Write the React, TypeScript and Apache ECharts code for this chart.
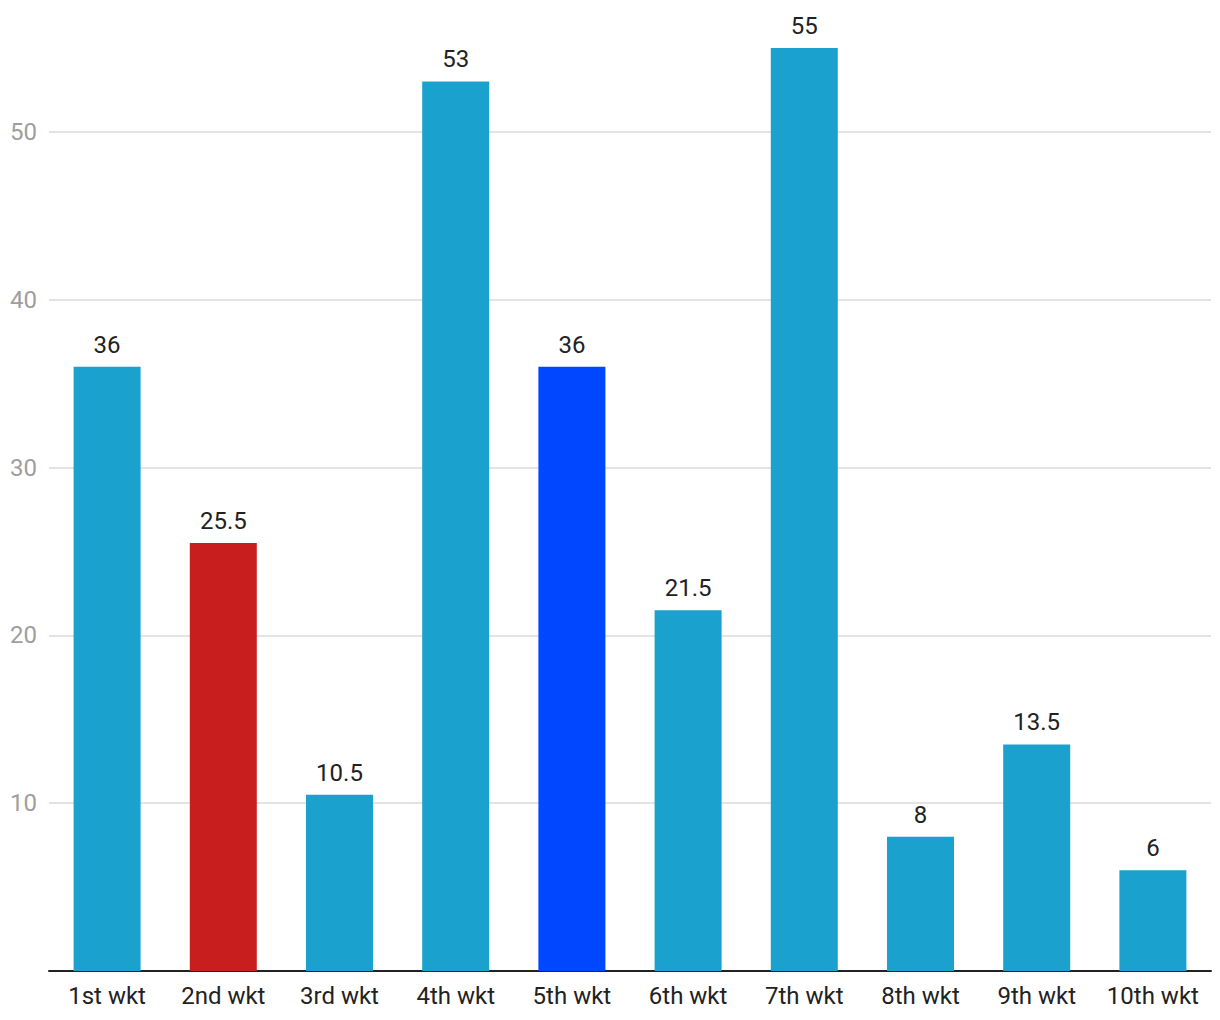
import React, { useEffect, useRef } from "react";
import * as echarts from "echarts";

const categories = ["1st wkt", "2nd wkt", "3rd wkt", "4th wkt", "5th wkt", "6th wkt", "7th wkt", "8th wkt", "9th wkt", "10th wkt"];
const values = [36, 25.5, 10.5, 53, 36, 21.5, 55, 8, 13.5, 6];
const yTicks = [10, 20, 30, 40, 50];

const BASE_COLOR = "#1ba1cd";
const HIGHLIGHT: Record<string, string> = {
  "2nd wkt": "#c91e1e",
  "5th wkt": "#0047ff",
};

export default function App() {
  const ref = useRef<HTMLDivElement>(null);
  useEffect(() => {
    if (!ref.current) return;
    const chart = echarts.init(ref.current, null, { renderer: "svg" });
    chart.setOption({
      animation: false,
      textStyle: { fontFamily: "Roboto" },
      grid: { left: 49, right: 9, top: 0, bottom: 49, containLabel: false },
      xAxis: {
        type: "category",
        data: categories,
        boundaryGap: true,
        axisLine: { show: true, lineStyle: { color: "#222", width: 2 } },
        axisTick: { show: false },
        axisLabel: { color: "#222", fontSize: 24, margin: 13, fontFamily: "Roboto", interval: 0 },
      },
      yAxis: {
        type: "value",
        min: 0,
        max: 60,
        interval: 10,
        axisLine: { show: false },
        axisTick: { show: false },
        axisLabel: {
          color: "#9e9e9e",
          fontSize: 24,
          margin: 12,
          fontFamily: "Roboto",
          formatter: (v: number) => (yTicks.includes(v) ? String(v) : ""),
        },
        splitLine: { show: true, lineStyle: { color: "#e3e3e3", width: 2 } },
      },
      series: [
        {
          type: "bar",
          barWidth: 67,
          data: values.map((v, i) => ({
            value: v,
            itemStyle: { color: HIGHLIGHT[categories[i]] || BASE_COLOR },
          })),
          label: {
            show: true,
            position: "top",
            distance: 10,
            color: "#222",
            fontSize: 24,
            fontFamily: "Roboto",
          },
        },
      ],
    });
    return () => chart.dispose();
  }, []);
  return (
    <div
      ref={ref}
      style={{ position: "absolute", left: 0, top: -36, width: 1220, height: 1056 }}
    />
  );
}
